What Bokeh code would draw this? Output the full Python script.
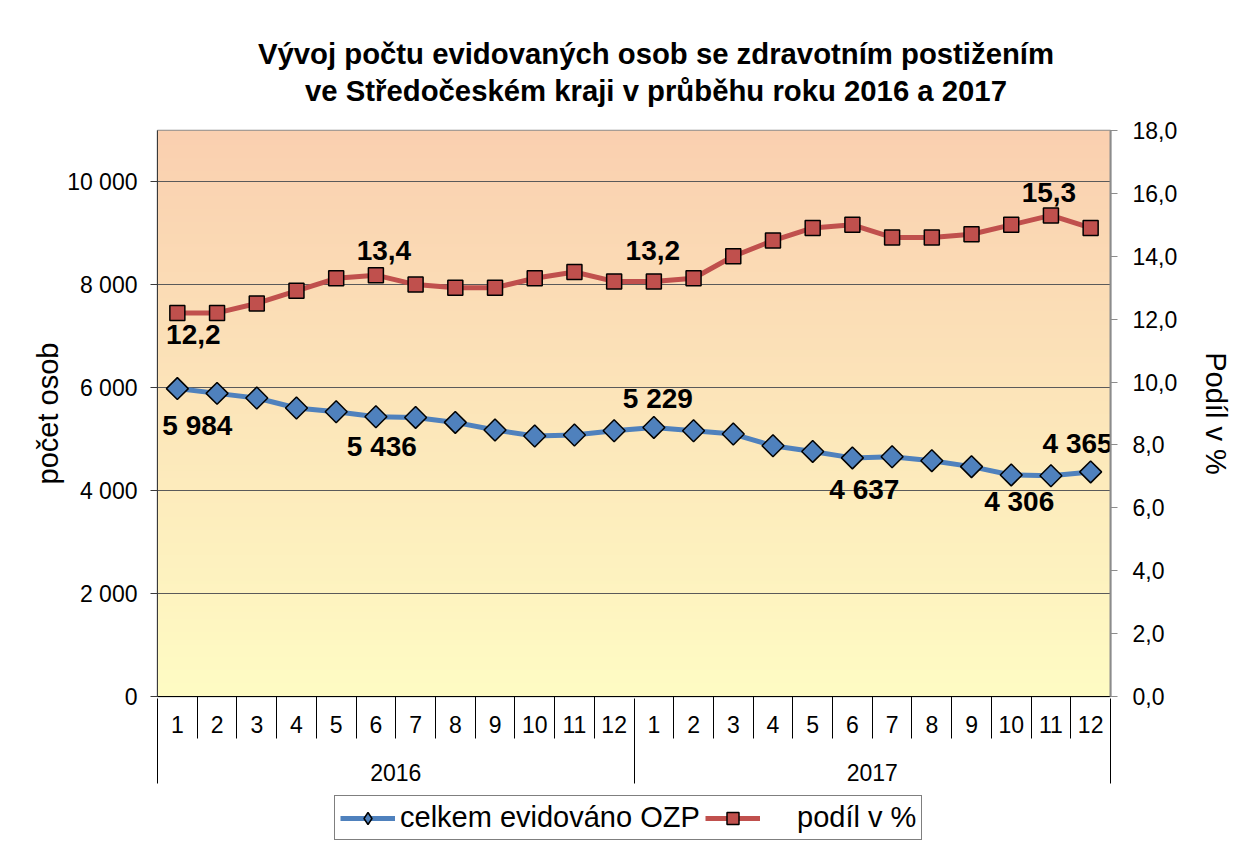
import numpy as np
from bokeh.plotting import figure
from bokeh.layouts import column
from bokeh.models import (ColumnDataSource, Range1d, LinearAxis,
                          FixedTicker, CustomJSTickFormatter, Legend, LegendItem)
from bokeh.core.properties import value
from bokeh.embed import file_html
from bokeh.resources import INLINE

# ---------------- data ----------------
years = ["2016", "2017"]
months = ["1", "2", "3", "4", "5", "6", "7", "8", "9", "10", "11", "12"]
count = [5984, 5891, 5801, 5607, 5535, 5436, 5424, 5327, 5179, 5062, 5082, 5165,
         5229, 5165, 5101, 4874, 4763, 4637, 4660, 4583, 4467, 4306, 4290, 4365]
pct = [12.2, 12.2, 12.5, 12.9, 13.3, 13.4, 13.1, 13.0, 13.0, 13.3, 13.5, 13.2,
       13.2, 13.3, 14.0, 14.5, 14.9, 15.0, 14.6, 14.6, 14.7, 15.0, 15.3, 14.9]
count_ticks = [0, 2000, 4000, 6000, 8000, 10000]
pct_ticks = [0, 2, 4, 6, 8, 10, 12, 14, 16, 18]
count_label_idx = [0, 5, 12, 17, 21, 23]
pct_label_idx = [0, 5, 12, 22]
series_names = ["celkem evidováno OZP", "podíl v %"]
title_lines = ["Vývoj počtu evidovaných osob se zdravotním postižením",
               "ve Středočeském kraji v průběhu roku 2016 a 2017"]
left_title = "počet osob"
right_title = "Podíl v %"

# ---------------- styles ----------------
FONT = "Liberation Sans"
BLUE = "#4F81BD"
RED = "#C0504D"
count_label_dx = [20, 6, 4, 12, 8, -13]
count_label_dy = [37, 30, -29, 32, 27, -28]
pct_label_dx = [16, 8, -1, -2]
pct_label_dy = [22, -25, -31, -23]
W = 1250
BL, BR = 157, W - 1110          # left / right borders around the plot frame
TH, MH, LH = 115, 673, 55       # heights: title strip, chart, legend strip

nm = len(months)
n = len(years) * nm
xpos = [i + 0.5 for i in range(n)]  # category centres on the month scale
src = ColumnDataSource(dict(x=xpos, count=count, pct=pct))

# ---------------- title strip ----------------
tf = figure(width=W, height=TH, x_range=Range1d(0, n), y_range=Range1d(0, 1),
            output_backend="svg", toolbar_location=None, x_axis_location=None,
            y_axis_location=None, title_location=None,
            min_border_left=BL, min_border_right=BR, min_border_top=0, min_border_bottom=0)
tf.outline_line_color = None
tf.xgrid.visible = False
tf.ygrid.visible = False
tf.text(x=[n / 2], y=[0.5], text=["\n".join(title_lines)], x_offset=22, y_offset=14,
        text_font=value(FONT), text_font_style="bold", text_font_size="29.3px",
        text_align="center", text_baseline="middle", text_color="black",
        text_line_height=1.13)

# ---------------- chart ----------------
p = figure(width=W, height=MH,
           x_range=Range1d(0, n), y_range=Range1d(0, 11000),
           output_backend="svg", toolbar_location=None, x_axis_location=None,
           title_location=None,
           min_border_left=BL, min_border_right=BR, min_border_top=15,
           min_border_bottom=92)
p.extra_y_ranges = {"pct": Range1d(0, 18)}
p.outline_line_color = "#8c8c8c"
p.outline_line_width = 1.5
p.background_fill_color = "white"
p.xgrid.grid_line_color = None

# gradient background of the plot area
rows = 400
t = np.linspace(0, 1, rows)[:, None]  # 0 bottom, 1 top
bottom_c = np.array([255, 252, 196])
top_c = np.array([250, 208, 176])
cols = (bottom_c[None, :] * (1 - t) + top_c[None, :] * t).astype(np.uint8)
img = np.empty((rows, 1), dtype=np.uint32)
view = img.view(dtype=np.uint8).reshape((rows, 1, 4))
view[:, 0, 0] = cols[:, 0]
view[:, 0, 1] = cols[:, 1]
view[:, 0, 2] = cols[:, 2]
view[:, 0, 3] = 255
p.image_rgba(image=[img], x=0, y=0, dw=n, dh=11000, level="image")

# grid
p.ygrid.ticker = FixedTicker(ticks=count_ticks)
p.ygrid.grid_line_color = "#5a5a5a"
p.ygrid.grid_line_width = 1

# left axis
ya = p.yaxis[0]
ya.ticker = FixedTicker(ticks=count_ticks)
ya.formatter = CustomJSTickFormatter(code="return String(tick).replace(/\\B(?=(\\d{3})+(?!\\d))/g, ' ');")
ya.axis_line_color = "#3a3a3a"
ya.major_tick_line_color = "#3a3a3a"
ya.major_tick_out = 7
ya.major_tick_in = 0
ya.minor_tick_line_color = None
ya.major_label_text_font = FONT
ya.major_label_text_font_size = "23px"
ya.major_label_text_color = "black"
ya.major_label_standoff = 13
ya.axis_label = left_title
ya.axis_label_text_font = FONT
ya.axis_label_text_font_size = "29px"
ya.axis_label_text_font_style = "normal"
ya.axis_label_text_color = "black"
ya.axis_label_standoff = 0

# right axis
ra = LinearAxis(y_range_name="pct", ticker=FixedTicker(ticks=pct_ticks),
                formatter=CustomJSTickFormatter(code="return tick.toFixed(1).replace('.', ',');"))
ra.axis_line_color = "#8c8c8c"
ra.axis_line_width = 2
ra.major_tick_line_color = "#8c8c8c"
ra.major_tick_out = 7
ra.major_tick_in = 0
ra.minor_tick_line_color = None
ra.major_label_text_font = FONT
ra.major_label_text_font_size = "23px"
ra.major_label_text_color = "black"
ra.major_label_standoff = 15
ra.axis_label = right_title
ra.axis_label_text_font = FONT
ra.axis_label_text_font_size = "29px"
ra.axis_label_text_font_style = "normal"
ra.axis_label_text_color = "black"
ra.axis_label_standoff = 20
p.add_layout(ra, "right")

# category table below the plot
month_seps = [i for i in range(1, n) if i % nm != 0]
year_seps = [i for i in range(0, n + 1) if i % nm == 0]

mx = LinearAxis(ticker=FixedTicker(ticks=xpos),
                formatter=CustomJSTickFormatter(args=dict(labels=months),
                                                code="return labels[Math.floor(tick) % labels.length];"))
mx.axis_line_color = "black"
mx.major_label_standoff = 19

yx = LinearAxis(ticker=FixedTicker(ticks=[nm * (k + 0.5) for k in range(len(years))],
                                   minor_ticks=month_seps),
                formatter=CustomJSTickFormatter(args=dict(labels=years, nm=nm),
                                                code="return labels[Math.floor(tick / nm)];"))
yx.axis_line_color = None
yx.minor_tick_line_color = "black"
yx.minor_tick_in = 39
yx.minor_tick_out = 3
yx.major_label_standoff = 25

for ax in (mx, yx):
    ax.major_tick_line_color = None
    ax.major_tick_out = 0
    ax.major_tick_in = 0
    ax.major_label_text_font = FONT
    ax.major_label_text_font_size = "23px"
    ax.major_label_text_color = "black"
mx.minor_tick_line_color = None
p.add_layout(mx, "below")
p.add_layout(yx, "below")

ex = LinearAxis(ticker=FixedTicker(ticks=[], minor_ticks=year_seps))
ex.axis_line_color = None
ex.major_tick_line_color = None
ex.major_tick_out = 0
ex.major_tick_in = 0
ex.major_label_standoff = 0
ex.minor_tick_line_color = "black"
ex.minor_tick_out = 0
ex.minor_tick_in = 85
p.add_layout(ex, "below")

# series
p.line("x", "count", source=src, line_color=BLUE, line_width=5)
p.scatter("x", "count", source=src, marker="square", angle=np.pi / 4, size=15.5,
          fill_color=BLUE, line_color="black", line_width=1.5)
p.line("x", "pct", source=src, line_color=RED, line_width=5, y_range_name="pct")
p.scatter("x", "pct", source=src, marker="square", size=15,
          fill_color=RED, line_color="black", line_width=1.5, y_range_name="pct")

# data labels
cl = ColumnDataSource(dict(
    x=[xpos[i] for i in count_label_idx],
    y=[count[i] for i in count_label_idx],
    text=[f"{count[i]:,}".replace(",", " ") for i in count_label_idx],
    dx=count_label_dx, dy=count_label_dy))
p.text("x", "y", text="text", source=cl, x_offset="dx", y_offset="dy",
       text_font=value(FONT), text_font_style="bold", text_font_size="28px",
       text_align="center", text_baseline="middle", text_color="black")
pl = ColumnDataSource(dict(
    x=[xpos[i] for i in pct_label_idx],
    y=[pct[i] for i in pct_label_idx],
    text=[f"{pct[i]:.1f}".replace(".", ",") for i in pct_label_idx],
    dx=pct_label_dx, dy=pct_label_dy))
p.text("x", "y", text="text", source=pl, x_offset="dx", y_offset="dy", y_range_name="pct",
       text_font=value(FONT), text_font_style="bold", text_font_size="28px",
       text_align="center", text_baseline="middle", text_color="black")

# ---------------- legend strip ----------------
lg = figure(width=W, height=LH, x_range=Range1d(0, n), y_range=Range1d(0, 1),
            output_backend="svg", toolbar_location=None, x_axis_location=None,
            y_axis_location=None, title_location=None,
            min_border_left=BL, min_border_right=BR, min_border_top=0, min_border_bottom=0)
lg.outline_line_color = None
lg.xgrid.visible = False
lg.ygrid.visible = False
# same series, far outside this strip's y range: only their legend swatches show
kl = lg.line("x", "count", source=src, line_color=BLUE, line_width=5)
ks = lg.scatter("x", "count", source=src, marker="diamond", size=22,
                fill_color=BLUE, line_color="black", line_width=1.5)
rl = lg.line("x", "count", source=src, line_color=RED, line_width=5)
rs = lg.scatter("x", "count", source=src, marker="square", size=15,
                fill_color=RED, line_color="black", line_width=1.5)
legend = Legend(items=[LegendItem(label=series_names[0], renderers=[kl, ks]),
                       LegendItem(label="\u00a0\u00a0\u00a0\u00a0" + series_names[1], renderers=[rl, rs])],
                orientation="horizontal", location=(334 - BL, 3),
                label_text_font=FONT, label_text_font_size="29px", label_text_color="black",
                glyph_width=55, glyph_height=30, label_standoff=5, spacing=5, padding=5,
                border_line_color="black", border_line_width=1, background_fill_color="white",
                margin=0)
lg.add_layout(legend)

page = column(tf, p, lg, spacing=0)
open("out.html", "w").write(file_html(page, INLINE))
